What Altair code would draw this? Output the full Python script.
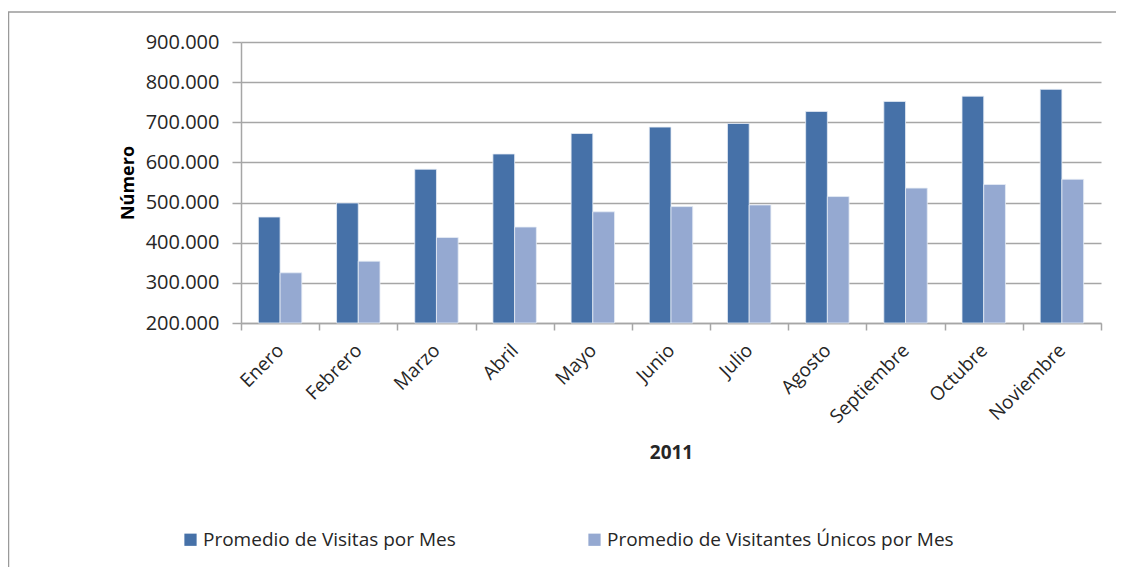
import altair as alt
import pandas as pd

meses = ["Enero", "Febrero", "Marzo", "Abril", "Mayo", "Junio", "Julio",
         "Agosto", "Septiembre", "Octubre", "Noviembre"]
visitas = [464000, 499000, 583000, 621000, 672000, 688000, 697000,
           727000, 752000, 765000, 782000]
unicos = [325000, 354000, 413000, 439000, 477000, 490000, 494000,
          515000, 536000, 545000, 558000]
series = ["Promedio de Visitas por Mes", "Promedio de Visitantes Únicos por Mes"]
colores = ["#4671a8", "#95a9d1"]

rows = []
for m, v, u in zip(meses, visitas, unicos):
    rows.append({"mes": m, "serie": series[0], "valor": v})
    rows.append({"mes": m, "serie": series[1], "valor": u})
df = pd.DataFrame(rows)

FONT = "Open Sans"
TXT = "#262626"
GRID = "#a6a6a6"

bars = alt.Chart(df).mark_bar(stroke="#e6ecf5", strokeWidth=0.8).encode(
    x=alt.X("mes:N", sort=meses,
            scale=alt.Scale(paddingInner=0, paddingOuter=0),
            axis=alt.Axis(title="2011", labelAngle=-45, labelAlign="right",
                          labelBaseline="middle", labelPadding=17,
                          tickBand="extent", tickSize=7, tickColor=GRID,
                          tickWidth=1.5, domainColor=GRID, domainWidth=1.5,
                          grid=False, labelFontSize=19, labelFont=FONT,
                          labelColor=TXT, labelLimit=0, titleFont=FONT,
                          titleFontSize=19, titleFontWeight="bold",
                          titleColor=TXT, titleY=129, titleBaseline="middle")),
    xOffset=alt.XOffset("serie:N", sort=series,
                        scale=alt.Scale(paddingInner=0, paddingOuter=0.8)),
    y=alt.Y("valor:Q",
            scale=alt.Scale(domain=[200000, 900000], nice=False, zero=False),
            axis=alt.Axis(title="Número", values=list(range(200000, 900001, 100000)),
                          labelExpr="replace(format(datum.value, ','), ',', '.')",
                          tickSize=9, tickColor=GRID, tickWidth=1.5,
                          domainColor=GRID, domainWidth=1.5,
                          gridColor=GRID, gridWidth=1.5,
                          labelFontSize=20, labelFont=FONT, labelColor=TXT,
                          labelPadding=13, titleFont=FONT, titleFontSize=18,
                          titleFontWeight="bold", titleColor="#000",
                          titlePadding=8)),
    y2=alt.datum(200000),
    color=alt.Color("serie:N", sort=series,
                    scale=alt.Scale(domain=series, range=colores),
                    legend=alt.Legend(title=None, orient="none", legendX=-60,
                                      legendY=488, direction="horizontal",
                                      symbolType="square", symbolSize=150,
                                      symbolStrokeWidth=0, labelFontSize=19,
                                      labelFont=FONT, labelColor=TXT,
                                      labelLimit=0, labelOffset=3,
                                      columnPadding=129)),
)

frame_top = alt.Chart(pd.DataFrame({"k": [0]})).mark_rule(
    color="#9a9a9a", strokeWidth=1.5).encode(
    x=alt.value(-233), x2=alt.value(875), y=alt.value(-30))
frame_left = alt.Chart(pd.DataFrame({"k": [0]})).mark_rule(
    color="#9a9a9a", strokeWidth=1.5).encode(
    x=alt.value(-232.5), y=alt.value(-30), y2=alt.value(525))

chart = alt.layer(bars, frame_top, frame_left).properties(
    width=860, height=281,
    autosize=alt.AutoSizeParams(type="none"),
    padding={"left": 233, "top": 34, "right": 15, "bottom": 244},
    background="white",
).configure_view(stroke=None)

chart.save("out.html", embed_options={"renderer": "svg", "actions": False})
